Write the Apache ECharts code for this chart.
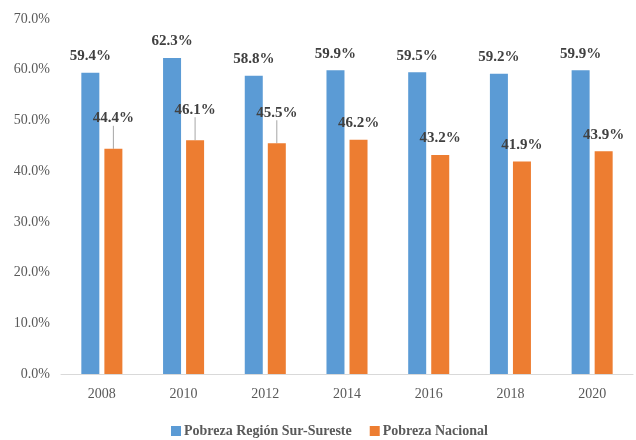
<!DOCTYPE html>
<html>
<head>
<meta charset="utf-8">
<script src="https://cdn.jsdelivr.net/npm/echarts@6/dist/echarts.min.js"></script>
<style>
  html, body { margin: 0; padding: 0; background: #fff; }
</style>
</head>
<body>
<div id="chart" style="width: 636px; height: 440px;"></div>
<script>
// años
const years = ["2008", "2010", "2012", "2014", "2016", "2018", "2020"];
// porcentaje de pobreza
const surSureste = [59.4, 62.3, 58.8, 59.9, 59.5, 59.2, 59.9];
const nacional = [44.4, 46.1, 45.5, 46.2, 43.2, 41.9, 43.9];
// etiquetas del eje
const yTicks = [0, 10, 20, 30, 40, 50, 60, 70];

// etiquetas naranjas que van desplazadas con linea guía
const liftedLabels = [0, 1, 2];

const serif = "'Liberation Serif', 'Times New Roman', serif";

let chart = echarts.init(document.getElementById("chart"));
let option = {
  animation: false,
  textStyle: { fontFamily: serif },
  grid: { left: 61, right: 3, top: 19, bottom: 66 },
  legend: {
    top: 419,
    left: 166,
    itemWidth: 10,
    itemHeight: 10,
    itemGap: 18,
    icon: "rect",
    textStyle: { fontFamily: serif, fontSize: 14, fontWeight: "bold", color: "#595959", padding: [0, 0, 0, -2] },
    data: ["Pobreza Región Sur-Sureste", "Pobreza Nacional"]
  },
  xAxis: {
    type: "category",
    data: years,
    axisTick: { show: false },
    axisLine: { lineStyle: { color: "#d9d9d9", width: 1 } },
    axisLabel: { fontFamily: serif, fontSize: 14, color: "#595959", margin: 13 }
  },
  yAxis: {
    type: "value",
    min: yTicks[0],
    max: yTicks[yTicks.length - 1],
    interval: 10,
    splitLine: { show: false },
    axisLine: { show: false },
    axisTick: { show: false },
    axisLabel: {
      fontFamily: serif,
      fontSize: 14,
      color: "#595959",
      margin: 11,
      formatter: v => v.toFixed(1) + "%"
    }
  },
  series: [
    {
      name: "Pobreza Región Sur-Sureste",
      type: "bar",
      data: surSureste,
      barWidth: 18,
      barGap: "28%",
      itemStyle: { color: "#5b9bd5" },
      label: {
        show: true,
        position: "top",
        distance: 9,
        fontFamily: serif,
        fontSize: 15,
        fontWeight: "bold",
        color: "#404040",
        formatter: p => p.value.toFixed(1) + "%"
      }
    },
    {
      name: "Pobreza Nacional",
      type: "bar",
      data: nacional.map((v, i) => ({
        value: v,
        labelLine: { show: liftedLabels.indexOf(i) >= 0 }
      })),
      barWidth: 18,
      itemStyle: { color: "#ed7d31" },
      label: {
        show: true,
        position: "top",
        distance: 9,
        fontFamily: serif,
        fontSize: 15,
        fontWeight: "bold",
        color: "#404040",
        formatter: p => p.value.toFixed(1) + "%"
      },
      labelLine: { lineStyle: { color: "#a6a6a6", width: 1 } },
      labelLayout: function (params) {
        if (liftedLabels.indexOf(params.dataIndex) >= 0) {
          return { dy: -14 };
        }
        return {};
      }
    }
  ]
};
chart.setOption(option);
</script>
</body>
</html>
